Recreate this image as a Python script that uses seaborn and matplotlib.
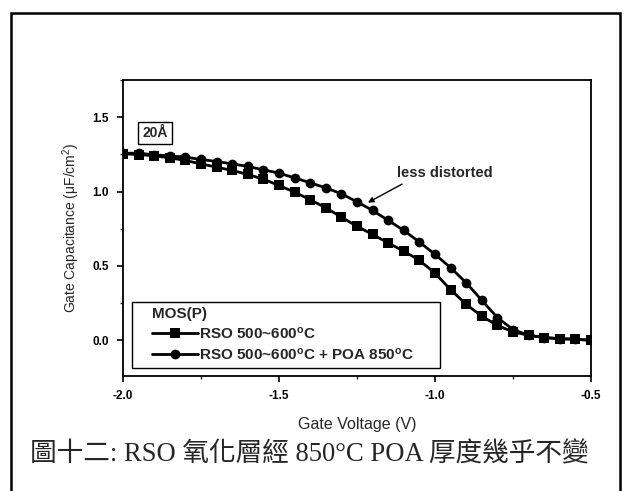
import numpy as np
import pandas as pd
import matplotlib
matplotlib.use("Agg")
import matplotlib.pyplot as plt
import seaborn as sns
from matplotlib.ticker import AutoMinorLocator
from matplotlib.patches import Rectangle

# ---- data ----
voltage = [-2.00, -1.95, -1.90, -1.85, -1.80, -1.75, -1.70, -1.65, -1.60, -1.55,
           -1.50, -1.45, -1.40, -1.35, -1.30, -1.25, -1.20, -1.15, -1.10, -1.05,
           -1.00, -0.95, -0.90, -0.85, -0.80, -0.75, -0.70, -0.65, -0.60, -0.55, -0.50]
cap_rso = [1.254, 1.249, 1.240, 1.227, 1.209, 1.186, 1.164, 1.142, 1.115, 1.083,
           1.041, 0.996, 0.945, 0.891, 0.828, 0.766, 0.712, 0.654, 0.600, 0.537,
           0.452, 0.340, 0.242, 0.161, 0.101, 0.056, 0.034, 0.018, 0.011, 0.007, 0.000]
cap_poa = [1.258, 1.258, 1.247, 1.240, 1.231, 1.216, 1.202, 1.186, 1.169, 1.146,
           1.124, 1.092, 1.059, 1.025, 0.985, 0.931, 0.873, 0.806, 0.739, 0.660,
           0.578, 0.488, 0.387, 0.269, 0.152, 0.072, 0.034, 0.018, 0.011, 0.007, 0.000]
label_rso = "RSO 500~600$\\mathbf{^o}$C"
label_poa = "RSO 500~600$\\mathbf{^o}$C + POA 850$\\mathbf{^o}$C"
legend_title = "MOS(P)"
x_ticks = [-2.0, -1.5, -1.0, -0.5]
y_ticks = [0.0, 0.5, 1.0, 1.5]
caption = "圖十二: RSO 氧化層經 850°C POA 厚度幾乎不變"

sns.set_theme(style="ticks")
plt.rcParams['font.family'] = ['Liberation Sans', 'DejaVu Sans']
plt.rcParams['axes.unicode_minus'] = False
plt.rcParams['mathtext.fontset'] = 'custom'
plt.rcParams['mathtext.rm'] = 'Liberation Sans'
plt.rcParams['mathtext.it'] = 'Liberation Sans:italic'
plt.rcParams['mathtext.bf'] = 'Liberation Sans:bold'

fig = plt.figure(figsize=(6.28, 4.91), dpi=100)
ax = fig.add_axes([123/628, 1-376/491, 468/628, 296/491])

df_rso = pd.DataFrame({"V": voltage, "C": cap_rso})
df_poa = pd.DataFrame({"V": voltage, "C": cap_poa})
sns.lineplot(data=df_rso, x="V", y="C", ax=ax, color="black", lw=2,
             marker="s", markersize=6.5, markeredgewidth=0, label=label_rso)
sns.lineplot(data=df_poa, x="V", y="C", ax=ax, color="black", lw=2,
             marker="o", markersize=7, markeredgewidth=0, label=label_poa)

ax.set_xlim(-2.0, -0.5)
ax.set_ylim(-0.24, 1.75)
ax.set_xticks(x_ticks)
ax.set_yticks(y_ticks)
ax.xaxis.set_minor_locator(AutoMinorLocator(2))
ax.yaxis.set_minor_locator(AutoMinorLocator(2))
ax.tick_params(which='major', direction='out', length=4, width=1.2, pad=6,
               labelsize=8.5, colors='black')
ax.tick_params(which='minor', direction='out', length=2.5, width=1)
for lab in ax.get_xticklabels() + ax.get_yticklabels():
    lab.set_fontweight('bold')
for s in ax.spines.values():
    s.set_linewidth(1.3)
    s.set_color('black')

ax.set_xlabel("Gate Voltage (V)", fontsize=11.5, labelpad=11)
ax.set_ylabel("Gate Capacitance (μF/cm$^2$)", fontsize=10, labelpad=8)

# legend frame (wider horizontal padding than vertical, as in the original)
ax.add_patch(Rectangle((9/468, 8/296), (440-132)/468, (368-302)/296,
                       transform=ax.transAxes, fill=True, fc="white",
                       ec="black", lw=1.0, zorder=4))
leg = ax.legend(title=legend_title, loc="upper left",
                bbox_to_anchor=((152-123)/468, (376-307)/296),
                borderaxespad=0, borderpad=0, frameon=False,
                fontsize=11, title_fontsize=11, handlelength=3.0, handletextpad=0.1,
                labelspacing=0.3)
leg.set_zorder(5)
leg._legend_box.align = "left"
leg.get_title().set_fontweight("bold")
for t in leg.get_texts():
    t.set_fontweight("bold")

ax.text(0.068, 0.821, "20Å", transform=ax.transAxes, ha="center", va="center",
        fontsize=10, fontweight="bold",
        bbox=dict(boxstyle="square,pad=0.3", fc="white", ec="black", lw=1))

ax.annotate("less distorted", xy=(-1.215, 0.926), xytext=(-0.968, 1.128),
            ha="center", va="center", fontsize=10.5, fontweight="bold",
            arrowprops=dict(arrowstyle="-|>", lw=1, color="black",
                            relpos=(0.14, 0), shrinkA=2, shrinkB=0,
                            mutation_scale=8))

fig.text(30/628, 1-455/491, caption, ha="left", va="center", fontsize=19.2,
         family=["Liberation Serif", "Noto Sans CJK TC"])

frame = Rectangle((11/628, -0.05), (620-11)/628, 1-13/491+0.05,
                  transform=fig.transFigure, fill=False, ec="black", lw=1.8,
                  clip_on=False)
fig.patches.append(frame)

fig.savefig("out.png", dpi=100)
